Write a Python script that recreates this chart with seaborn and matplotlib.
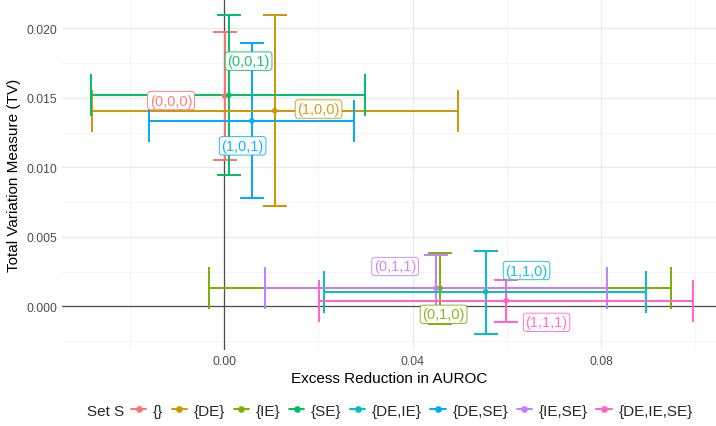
import numpy as np
import pandas as pd
import matplotlib
matplotlib.use("Agg")
import matplotlib.pyplot as plt
import seaborn as sns
from matplotlib.lines import Line2D
from matplotlib.ticker import MultipleLocator, FormatStrFormatter

# ---- data ----
sets = ["{}", "{DE}", "{IE}", "{SE}", "{DE,IE}", "{DE,SE}", "{IE,SE}", "{DE,IE,SE}"]
codes = ["(0,0,0)", "(1,0,0)", "(0,1,0)", "(0,0,1)", "(1,1,0)", "(1,0,1)", "(0,1,1)", "(1,1,1)"]
auroc = [0.0001, 0.01076, 0.04584, 0.0010, 0.0555, 0.00587, 0.0450, 0.0599]
auroc_lo = [np.nan, -0.0280, -0.00318, -0.0282, 0.0212, -0.0159, 0.0087, 0.0202]
auroc_hi = [np.nan, 0.0497, 0.0949, 0.0299, 0.0896, 0.0275, 0.0812, 0.0996]
tv = [0.01514, 0.01408, 0.00131, 0.01519, 0.00105, 0.01336, 0.00131, 0.00041]
tv_lo = [0.01050, 0.00725, -0.00124, 0.00947, -0.00199, 0.00782, -0.0005, -0.00110]
tv_hi = [0.01978, 0.02097, 0.00387, 0.02097, 0.00402, 0.01894, 0.00368, 0.00189]
# label placement (repelled positions)
label_x = [-0.01125, 0.02005, 0.04658, 0.0052, 0.06419, 0.00393, 0.03629, 0.06844]
label_y = [0.01481, 0.01420, -0.00057, 0.01765, 0.00258, 0.01155, 0.00287, -0.00115]
palette = ["#F8766D", "#CD9600", "#7CAE00", "#00BE67", "#00BFC4", "#00A9FF", "#C77CFF", "#FF61CC"]

df = pd.DataFrame({"set": sets, "code": codes, "auroc": auroc, "auroc_lo": auroc_lo,
                   "auroc_hi": auroc_hi, "tv": tv, "tv_lo": tv_lo, "tv_hi": tv_hi,
                   "lx": label_x, "ly": label_y})

sns.set_theme(style="white")
plt.rcParams["font.family"] = ["Liberation Sans", "DejaVu Sans"]

fig = plt.figure(figsize=(7.16, 4.27), dpi=100)
ax = fig.add_axes([62 / 716, 1 - 351 / 427, 654 / 716, 351 / 427])

lw = 1.4
ax.axhline(0, color="#4D4D4D", lw=0.9, zorder=1.5)
ax.axvline(0, color="#4D4D4D", lw=0.9, zorder=1.5)

cmap = dict(zip(sets, palette))
# vertical error bars
for _, r in df.iterrows():
    c = cmap[r["set"]]
    ax.errorbar(r["auroc"], r["tv"], yerr=[[r["tv"] - r["tv_lo"]], [r["tv_hi"] - r["tv"]]],
                fmt="none", ecolor=c, elinewidth=lw, capsize=8.6, capthick=lw, zorder=2)
# horizontal error bars
for _, r in df.iterrows():
    if np.isnan(r["auroc_lo"]):
        continue
    c = cmap[r["set"]]
    ax.errorbar(r["auroc"], r["tv"], xerr=[[r["auroc"] - r["auroc_lo"]], [r["auroc_hi"] - r["auroc"]]],
                fmt="none", ecolor=c, elinewidth=lw, capsize=15, capthick=lw, zorder=3)

sns.scatterplot(data=df, x="auroc", y="tv", hue="set", palette=palette, hue_order=sets,
                s=16, linewidth=0, legend=False, ax=ax, zorder=4)

for _, r in df.iterrows():
    c = cmap[r["set"]]
    ax.text(r["lx"], r["ly"], r["code"], color=c, fontsize=10.5, ha="center", va="center",
            zorder=5, alpha=0.9,
            bbox=dict(boxstyle="round,pad=0.15,rounding_size=0.2", fc="white", ec=c, lw=0.6))

ax.set_xlim(-0.0344, 0.1044)
ax.set_ylim(-0.00314, 0.02212)
ax.xaxis.set_major_locator(MultipleLocator(0.04))
ax.xaxis.set_minor_locator(MultipleLocator(0.02))
ax.yaxis.set_major_locator(MultipleLocator(0.005))
ax.yaxis.set_minor_locator(MultipleLocator(0.0025))
ax.xaxis.set_major_formatter(FormatStrFormatter("%.2f"))
ax.yaxis.set_major_formatter(FormatStrFormatter("%.3f"))
ax.grid(which="major", color="#EBEBEB", lw=1.0, zorder=0)
ax.grid(which="minor", color="#F2F2F2", lw=0.6, zorder=0)
ax.set_axisbelow(True)
for s in ax.spines.values():
    s.set_visible(False)
ax.tick_params(which="both", length=0, labelsize=8.8, labelcolor="#4D4D4D", pad=3.5)
ax.set_xlabel("Excess Reduction in AUROC", fontsize=11, color="black", labelpad=3)
ax.set_ylabel("Total Variation Measure (TV)", fontsize=11, color="black", labelpad=4)

handles = [Line2D([0], [0], color=c, lw=lw, marker="o", ms=3.8) for c in palette]
fig.text(87 / 716, 1 - 411.7 / 427, "Set S", fontsize=11, ha="left", va="center")
fig.legend(handles, sets, loc="center left", bbox_to_anchor=(131 / 716, 1 - 411.7 / 427),
           ncol=8, frameon=False, fontsize=11, handlelength=1.0, handletextpad=0.45,
           columnspacing=0.55, borderpad=0, borderaxespad=0)

fig.savefig("out.png", dpi=100)
